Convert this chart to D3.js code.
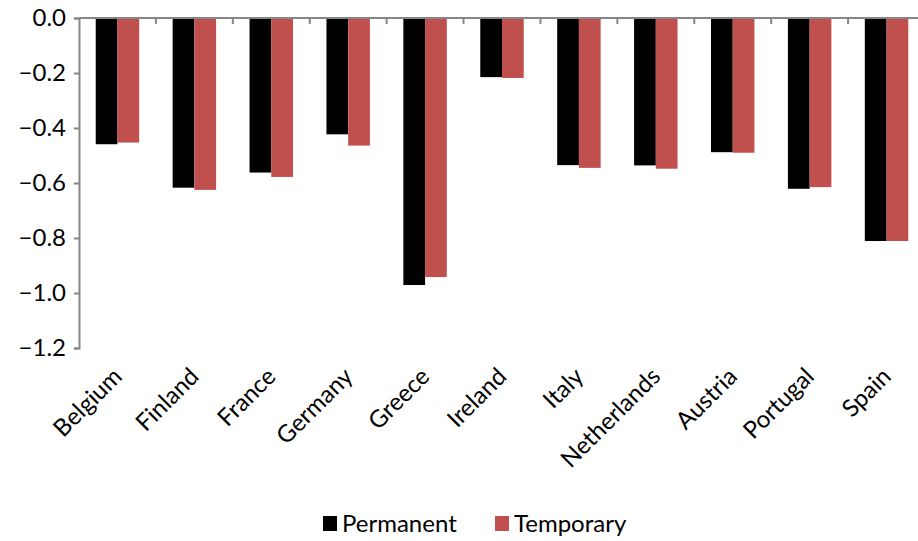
<!DOCTYPE html>
<html lang="en">
<head>
    <meta charset="UTF-8">
    <title>Permanent vs Temporary</title>
    <script src="https://d3js.org/d3.v7.min.js"></script>
    <style>
        body { margin: 0; background: #fff; }
        text { font-family: Lato, "Open Sans", sans-serif; fill: #000; }
    </style>
</head>
<body>
<svg id="main" width="918" height="541"></svg>
<script>
    // values
    let countries = ['Belgium', 'Finland', 'France', 'Germany', 'Greece', 'Ireland',
        'Italy', 'Netherlands', 'Austria', 'Portugal', 'Spain'];
    let permanent = [-0.459, -0.617, -0.562, -0.423, -0.971, -0.215, -0.535, -0.536, -0.488, -0.621, -0.811];
    let temporary = [-0.453, -0.625, -0.578, -0.464, -0.942, -0.218, -0.545, -0.548, -0.490, -0.615, -0.811];
    let seriesNames = ['Permanent', 'Temporary'];
    let yTicks = [0, -0.2, -0.4, -0.6, -0.8, -1.0, -1.2];

    let colors = ['#000000', '#c0504d'];
    let svg = d3.select('svg#main');
    let plot = {left: 79, right: 925, top: 18, bottom: 348};

    let xScale = d3.scaleBand().domain(countries).range([plot.left, plot.right]);
    let inner = d3.scaleBand().domain(seriesNames)
        .range([0, xScale.bandwidth()]).paddingInner(0).paddingOuter(0.77);
    let yScale = d3.scaleLinear().domain([0, -1.2]).range([plot.top, plot.bottom]);

    let rows = countries.map(function (c, i) {
        return {country: c, values: [permanent[i], temporary[i]]};
    });

    // bars
    let groups = svg.selectAll('g.group')
        .data(rows)
        .enter()
        .append('g')
        .attr('class', 'group')
        .attr('transform', function (d) { return 'translate(' + xScale(d.country) + ',0)'; });

    groups.selectAll('rect')
        .data(function (d) { return d.values.map(function (v, k) { return {k: k, v: v}; }); })
        .enter()
        .append('rect')
        .attr('x', function (d) { return inner(seriesNames[d.k]); })
        .attr('width', inner.bandwidth())
        .attr('y', yScale(0))
        .attr('height', function (d) { return yScale(d.v) - yScale(0); })
        .style('fill', function (d) { return colors[d.k]; });

    // y axis
    let yAxis = svg.append('g')
        .attr('transform', 'translate(' + plot.left + ',0)')
        .call(d3.axisLeft(yScale).tickValues(yTicks).tickSize(5).tickPadding(8)
            .tickFormat(d3.format('.1f')));
    yAxis.selectAll('path, line').attr('stroke', '#868686').attr('stroke-width', 2);
    yAxis.selectAll('text').style('font-size', '24px');

    // x axis along zero, ticks between categories
    let xAxis = svg.append('g')
        .attr('transform', 'translate(0,' + yScale(0) + ')');
    xAxis.append('line')
        .attr('x1', plot.left).attr('x2', plot.right)
        .attr('stroke', '#868686').attr('stroke-width', 2);
    xAxis.selectAll('line.tick')
        .data(countries.slice(1))
        .enter()
        .append('line')
        .attr('class', 'tick')
        .attr('x1', function (d) { return xScale(d); })
        .attr('x2', function (d) { return xScale(d); })
        .attr('y1', 0).attr('y2', 6)
        .attr('stroke', '#868686').attr('stroke-width', 2);

    // category labels, rotated
    svg.selectAll('text.cat')
        .data(countries)
        .enter()
        .append('text')
        .attr('class', 'cat')
        .attr('text-anchor', 'end')
        .style('font-size', '24px')
        .attr('transform', function (d) {
            let cx = xScale(d) + xScale.bandwidth() / 2 + 6;
            return 'translate(' + cx + ',' + 378 + ') rotate(-45)';
        })
        .text(function (d) { return d; });

    // legend
    let legend = svg.append('g').attr('transform', 'translate(323,516)');
    let legendX = [0, 172];
    seriesNames.forEach(function (s, k) {
        let g = legend.append('g').attr('transform', 'translate(' + legendX[k] + ',0)');
        g.append('rect').attr('width', 14).attr('height', 15).style('fill', colors[k]);
        g.append('text').attr('x', 19).attr('y', 16).style('font-size', '24px').text(s);
    });
</script>
</body>
</html>
